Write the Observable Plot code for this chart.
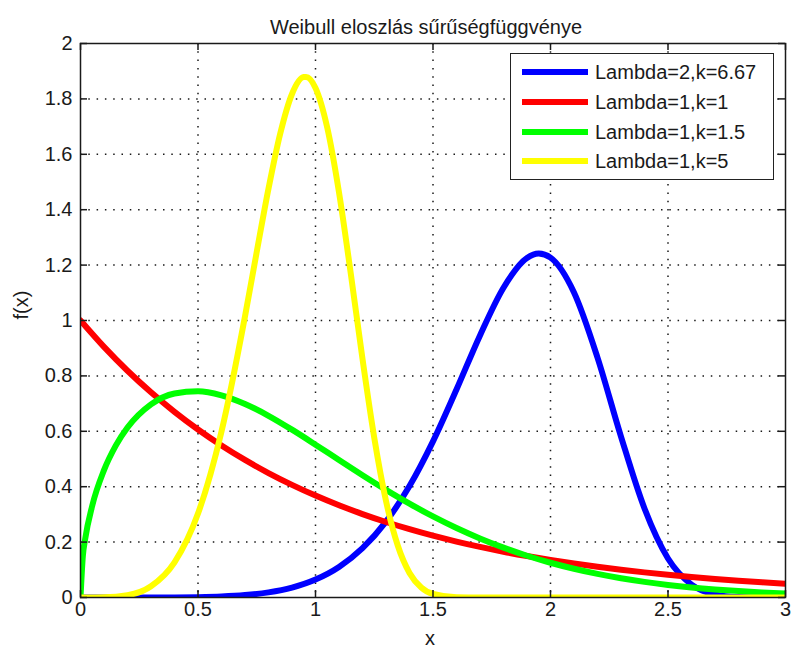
<!DOCTYPE html>
<html>
<head>
<meta charset="utf-8">
<script src="https://cdn.jsdelivr.net/npm/d3@7"></script>
<script src="https://cdn.jsdelivr.net/npm/@observablehq/plot@0.6"></script>
<style>
  body { margin: 0; background: #fff; }
  #chart { position: relative; width: 791px; height: 655px; font-family: "Liberation Sans", Arial, sans-serif; }
  #chart svg { position: absolute; left: 0; top: 0; }
  #legend { position: absolute; left: 510px; top: 53px; width: 264px; height: 127px;
            box-sizing: border-box; border: 1.5px solid #222; background: #fff; }
  #legend .swatch { position: absolute; left: 11px; width: 66px; height: 6px; }
  #legend .label { position: absolute; left: 84px; height: 24px; line-height: 24px;
                   font-size: 20px; color: #1a1a1a; white-space: nowrap; }
</style>
</head>
<body>
<div id="chart"><div id="legend"></div></div>
<script>
// Axis ticks
const xTicks = [0, 0.5, 1, 1.5, 2, 2.5, 3];
const yTicks = [0, 0.2, 0.4, 0.6, 0.8, 1, 1.2, 1.4, 1.6, 1.8, 2];

// Series names and colours (legend order = drawing order)
const seriesNames = ["Lambda=2,k=6.67", "Lambda=1,k=1", "Lambda=1,k=1.5", "Lambda=1,k=5"];
const seriesColors = ["#0000ff", "#ff0000", "#00ff00", "#ffff00"];

// Lambda=2, k=6.67
const xL2k667 = [0, 0.2, 0.4, 0.5, 0.6, 0.7, 0.8, 0.9, 1.0, 1.1, 1.2, 1.3, 1.4, 1.5, 1.6, 1.7, 1.8, 1.9, 1.95, 2.0, 2.1, 2.2, 2.3, 2.4, 2.5, 2.6, 2.7, 2.8, 2.9, 3.0];
const yL2k667 = [0, 0, 0.0004, 0.0013, 0.0036, 0.0087, 0.0184, 0.0358, 0.0649, 0.1104, 0.1782, 0.2740, 0.4022, 0.5636, 0.7509, 0.9462, 1.1184, 1.2256, 1.2415, 1.2269, 1.1012, 0.8662, 0.5810, 0.3212, 0.1409, 0.0468, 0.0112, 0.0018, 0.0002, 0];

// Lambda=1, k=1
const xL1k1 = [0, 0.1, 0.2, 0.3, 0.4, 0.5, 0.6, 0.7, 0.8, 0.9, 1.0, 1.1, 1.2, 1.3, 1.4, 1.5, 1.6, 1.7, 1.8, 1.9, 2.0, 2.1, 2.2, 2.3, 2.4, 2.5, 2.6, 2.7, 2.8, 2.9, 3.0];
const yL1k1 = [1, 0.9048, 0.8187, 0.7408, 0.6703, 0.6065, 0.5488, 0.4966, 0.4493, 0.4066, 0.3679, 0.3329, 0.3012, 0.2725, 0.2466, 0.2231, 0.2019, 0.1827, 0.1653, 0.1496, 0.1353, 0.1225, 0.1108, 0.1003, 0.0907, 0.0821, 0.0743, 0.0672, 0.0608, 0.0550, 0.0498];

// Lambda=1, k=1.5
const xL1k15 = [0, 0.01, 0.02, 0.05, 0.1, 0.15, 0.2, 0.3, 0.4, 0.5, 0.6, 0.7, 0.8, 0.9, 1.0, 1.1, 1.2, 1.3, 1.4, 1.5, 1.6, 1.7, 1.8, 1.9, 2.0, 2.1, 2.2, 2.3, 2.4, 2.5, 2.6, 2.7, 2.8, 2.9, 3.0];
const yL1k15 = [0, 0.1499, 0.2115, 0.3317, 0.4596, 0.5482, 0.6134, 0.6971, 0.7367, 0.7448, 0.7300, 0.6987, 0.6561, 0.6059, 0.5518, 0.4963, 0.4414, 0.3886, 0.3387, 0.2926, 0.2507, 0.2131, 0.1799, 0.1507, 0.1254, 0.1037, 0.0852, 0.0695, 0.0564, 0.0455, 0.0365, 0.0292, 0.0232, 0.0183, 0.0144];

// Lambda=1, k=5
const xL1k5 = [0, 0.1, 0.2, 0.3, 0.4, 0.5, 0.6, 0.7, 0.75, 0.8, 0.85, 0.9, 0.95, 0.96, 1.0, 1.05, 1.1, 1.15, 1.2, 1.25, 1.3, 1.35, 1.4, 1.45, 1.5, 1.6, 1.7, 1.8, 2.0, 2.5, 3.0];
const yL1k5 = [0, 0.0005, 0.008, 0.0404, 0.1267, 0.3029, 0.5995, 1.0148, 1.2479, 1.4758, 1.6749, 1.8177, 1.8787, 1.8792, 1.8394, 1.6962, 1.4626, 1.1701, 0.8612, 0.5771, 0.3485, 0.1877, 0.0887, 0.0364, 0.0127, 0.0009, 0, 0, 0, 0, 0];

const seriesX = [xL2k667, xL1k1, xL1k15, xL1k5];
const seriesY = [yL2k667, yL1k1, yL1k15, yL1k5];

const points = seriesNames.flatMap((name, i) =>
  seriesX[i].map((x, j) => ({ name, x, y: seriesY[i][j] }))
);

const W = 791, H = 655;
const mL = 80, mR = 6, mT = 43, mB = 58;
const plotW = W - mL - mR, plotH = H - mT - mB;
const ink = "#1a1a1a";
const fmt = d3.format("~g");
const tickLen = 7;

const chart = Plot.plot({
  width: W,
  height: H,
  marginLeft: mL,
  marginRight: mR,
  marginTop: mT,
  marginBottom: mB,
  x: { domain: [0, 3], axis: null },
  y: { domain: [0, 2], axis: null },
  color: { domain: seriesNames, range: seriesColors },
  style: { fontFamily: '"Liberation Sans", Arial, sans-serif', fontSize: "20px", background: "#fff", overflow: "visible" },
  marks: [
    // dotted grid
    Plot.ruleX(xTicks.slice(1, -1), { x: d => d, stroke: ink, strokeWidth: 1.5, strokeDasharray: "1.5,6.8" }),
    Plot.ruleY(yTicks.slice(1, -1), { y: d => d, stroke: ink, strokeWidth: 1.5, strokeDasharray: "1.5,6.8" }),
    // density curves
    Plot.line(points, { x: "x", y: "y", z: "name", stroke: "name", strokeWidth: 6, curve: "monotone-x", clip: true }),
    // axes box and inward ticks on all four sides
    Plot.frame({ stroke: ink, strokeWidth: 1.5 }),
    Plot.ruleX(xTicks, { x: d => d, insetTop: plotH - tickLen, stroke: ink, strokeWidth: 1.5 }),
    Plot.ruleX(xTicks, { x: d => d, insetBottom: plotH - tickLen, stroke: ink, strokeWidth: 1.5 }),
    Plot.ruleY(yTicks, { y: d => d, insetRight: plotW - tickLen, stroke: ink, strokeWidth: 1.5 }),
    Plot.ruleY(yTicks, { y: d => d, insetLeft: plotW - tickLen, stroke: ink, strokeWidth: 1.5 }),
    // tick labels
    Plot.text(xTicks, { x: d => d, frameAnchor: "bottom", dy: 18, text: d => fmt(d), fill: ink }),
    Plot.text(yTicks, { y: d => d, frameAnchor: "left", textAnchor: "end", dx: -8, text: d => fmt(d), fill: ink }),
    // title and axis labels
    Plot.text(["Weibull eloszlás sűrűségfüggvénye"], { frameAnchor: "top", dx: -7, dy: -24, text: d => d, fill: ink }),
    Plot.text(["x"], { frameAnchor: "bottom", dx: -3, dy: 47, text: d => d, fill: ink }),
    Plot.text(["f(x)"], { frameAnchor: "left", rotate: -90, dx: -59, dy: -1, text: d => d, fill: ink })
  ]
});

const container = document.getElementById("chart");
container.insertBefore(chart, container.firstChild);

// Legend box
const legend = d3.select("#legend");
seriesNames.forEach((name, i) => {
  const cy = 18 + 29.8 * i;
  legend.append("div").attr("class", "swatch")
    .style("top", (cy - 3) + "px")
    .style("background", seriesColors[i]);
  legend.append("div").attr("class", "label")
    .style("top", (cy - 12) + "px")
    .text(name);
});
</script>
</body>
</html>
